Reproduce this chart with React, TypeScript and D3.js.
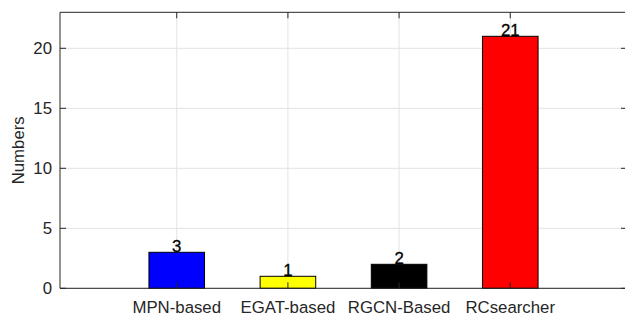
import React from "react";
import * as d3 from "d3";

const categories = ["MPN-based", "EGAT-based", "RGCN-Based", "RCsearcher"];
const values = [3, 1, 2, 21];
const colors = ["#0000ff", "#ffff00", "#000000", "#ff0000"];
const yTicks = [0, 5, 10, 15, 20];

const W = 625;
const H = 316;
const FONT = "'Liberation Sans', Arial, sans-serif";

export default function App() {
  const x = d3.scaleLinear().domain([-0.05, 5.05]).range([60, 627]);
  const y = d3.scaleLinear().domain([0, 23]).range([288.3, 12.3]);
  const barW = (x(1) - x(0)) * 0.5;
  const x0 = x(-0.05);
  const x1 = x(5.05);
  const yTop = y(23);
  const yBot = y(0);
  const axisColor = "#262626";
  const gridColor = "#e3e3e3";
  const pos = (i: number) => x(i + 1);
  const fs = 16.8;

  return (
    <svg
      width={W}
      height={H}
      style={{ position: "absolute", left: 0, top: 0, background: "#fff" }}
      fontFamily={FONT}
    >
      <rect x={0} y={0} width={W} height={H} fill="#fff" />
      {yTicks.map((t) => (
        <line key={"gy" + t} x1={x0} x2={x1} y1={y(t)} y2={y(t)} stroke={gridColor} strokeWidth={1} />
      ))}
      {categories.map((c, i) => (
        <line key={"gx" + c} x1={pos(i)} x2={pos(i)} y1={yTop} y2={yBot} stroke={gridColor} strokeWidth={1} />
      ))}
      {values.map((v, i) => (
        <rect
          key={"b" + i}
          x={pos(i) - barW / 2}
          y={y(v)}
          width={barW}
          height={y(0) - y(v)}
          fill={colors[i]}
          stroke="#000"
          strokeWidth={1}
        />
      ))}
      {values.map((v, i) => (
        <text
          key={"l" + i}
          x={pos(i)}
          y={y(v) - 0.5}
          textAnchor="middle"
          fontSize={fs}
          fill="#000"
          stroke="#000"
          strokeWidth={0.3}
        >
          {v}
        </text>
      ))}
      <line x1={x0} x2={x1} y1={yTop} y2={yTop} stroke={axisColor} strokeWidth={1} />
      <line x1={x0} x2={x1} y1={yBot} y2={yBot} stroke={axisColor} strokeWidth={1} />
      <line x1={x0} x2={x0} y1={yTop} y2={yBot} stroke={axisColor} strokeWidth={1} />
      <line x1={x1} x2={x1} y1={yTop} y2={yBot} stroke={axisColor} strokeWidth={1} />
      {yTicks.map((t) => (
        <g key={"yt" + t}>
          <line x1={x0} x2={x0 + 6} y1={y(t)} y2={y(t)} stroke={axisColor} />
          <line x1={x1} x2={x1 - 6} y1={y(t)} y2={y(t)} stroke={axisColor} />
          <text x={x0 - 8} y={y(t)} dy="0.36em" textAnchor="end" fontSize={fs} fill={axisColor}>
            {t}
          </text>
        </g>
      ))}
      {categories.map((c, i) => (
        <g key={"xt" + c}>
          <line x1={pos(i)} x2={pos(i)} y1={yTop} y2={yTop + 6} stroke={axisColor} />
          <line x1={pos(i)} x2={pos(i)} y1={yBot} y2={yBot - 6} stroke={axisColor} />
          <text x={pos(i)} y={yBot + 25} textAnchor="middle" fontSize={fs} fill={axisColor}>
            {c}
          </text>
        </g>
      ))}
      <text
        transform={`translate(${24},${(yTop + yBot) / 2}) rotate(-90)`}
        textAnchor="middle"
        fontSize={fs}
        fill={axisColor}
      >
        Numbers
      </text>
    </svg>
  );
}
